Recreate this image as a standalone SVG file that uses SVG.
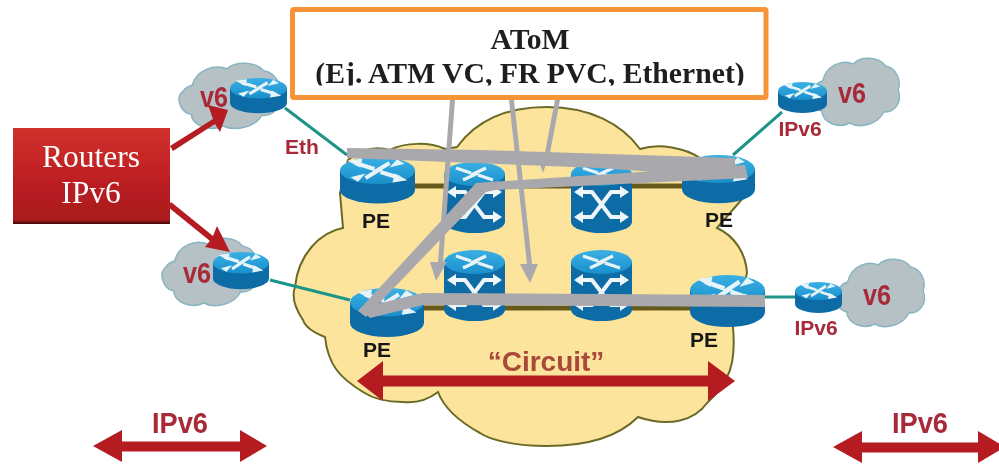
<svg xmlns="http://www.w3.org/2000/svg" width="999" height="466" viewBox="0 0 999 466">
<style>
.lbl{font-family:"Liberation Sans",Arial,sans-serif;font-weight:700;text-anchor:middle}
.red{fill:#a82a38}
.pe{fill:#161616;font-size:21px}
.ser{font-family:"Liberation Serif","Times New Roman",serif;text-anchor:middle}
.teal{fill:none;stroke:#1f9488;stroke-width:3}
.olive{fill:none;stroke:#655a1e;stroke-width:5}
.grey{fill:#a9a9ad;stroke:none}
.dred{fill:#b51c24;stroke:none}
.cld{fill:#b6c1c5;stroke:#86b4c0;stroke-width:1.5}
</style>
<defs>
<filter id="soft" filterUnits="userSpaceOnUse" x="0" y="0" width="999" height="466"><feGaussianBlur stdDeviation="0.55"/></filter>
<clipPath id="cut"><rect x="290" y="7" width="479" height="78.500"/></clipPath>
<linearGradient id="box" x1="0" y1="0" x2="0" y2="1"><stop offset="0" stop-color="#d0312c"/><stop offset="0.5" stop-color="#bf2024"/><stop offset="0.96" stop-color="#a81a1c"/><stop offset="1" stop-color="#3c0a0a"/></linearGradient>
<linearGradient id="top" x1="0" y1="0" x2="0" y2="1"><stop offset="0" stop-color="#3ab0e4"/><stop offset="1" stop-color="#1a8fcb"/></linearGradient>
<path id="cloudp" d="M14,24 C18,8 36,2 48,7 C56,-1 76,-1 84,9 C95,11 102,22 98,33 C103,45 94,56 82,55 C76,67 56,72 44,66 C32,72 14,66 13,54 C2,52 -3,36 5,30 C7,27 10,25 14,24 Z"/>
<g id="router">
<path fill="#0c6ca6" d="M0,18 V44 A50,18 0 0 0 100,44 V18 Z"/>
<ellipse cx="50" cy="18" rx="50" ry="18" fill="url(#top)"/>
<path fill="none" stroke="#e6f4fa" stroke-width="5.500" d="M20,8 L46,16 M80,28 L54,20 M66,8 L46,20 M34,28 L54,16"/>
<path fill="#e6f4fa" d="M10,5 L30,2 L27,14 Z M90,31 L70,34 L73,22 Z M76,3 L86,9 L66,14 Z M24,33 L14,27 L34,22 Z"/>
</g>
<g id="sw">
<path fill="#0c6ca6" d="M0,12 V60 A30.500,11 0 0 0 61,60 V12 Z"/>
<ellipse cx="30.500" cy="12" rx="30.500" ry="12" fill="url(#top)"/>
<path fill="none" stroke="#e6f4fa" stroke-width="3.200" d="M12,6 L27,11 M49,18 L34,13 M42,6 L27,13 M19,18 L34,11"/>
<path fill="none" stroke="#eef6fa" stroke-width="4" d="M9,30 H21 L40,55 H52 M9,55 H21 L40,30 H52"/>
<path fill="#eef6fa" d="M3,30 L12,24 V36 Z M58,30 L49,24 V36 Z M3,55 L12,49 V61 Z M58,55 L49,49 V61 Z"/>
</g>
</defs>
<rect width="999" height="466" fill="#ffffff"/>
<g filter="url(#soft)">
<g id="core-cloud">
<path fill="#fde49c" stroke="#6a6a28" stroke-width="2" d="M348,160 C362,148 376,146 390,150 C405,142 430,142 445,149 L457,147 C478,118 510,107 547,107 C590,107 622,124 640,149 C660,143 685,148 700,158 L750,190 L717,228 C735,236 746,254 747,273 L733,327 C735,350 733,366 727,377 C720,392 712,398 707,403 C695,420 670,428 638,417 C615,440 580,446 547,446 C515,446 490,440 480,433 C460,422 444,408 438,392 C425,402 412,403 403,402 C385,402 372,398 363,392 C340,378 328,365 325,337 C312,332 305,326 303,320 C293,305 292,295 295,287 C298,255 320,232 343,228 L340,193 Z"/>
</g>
<g id="cloud-tl"><use href="#cloudp" class="cld" transform="translate(178,62) scale(1.02,0.97)"/></g>
<g id="cloud-bl"><use href="#cloudp" class="cld" transform="translate(161,237) scale(0.97,1)"/></g>
<g id="cloud-tr"><use href="#cloudp" class="cld" transform="translate(810,57) scale(0.9,1)"/></g>
<g id="cloud-br"><use href="#cloudp" class="cld" transform="translate(835,258) scale(0.9,1)"/></g>
<g id="router-tl"><use href="#router" transform="translate(230,78) scale(0.57,0.57)"/></g>
<g id="router-bl"><use href="#router" transform="translate(213,252) scale(0.56,0.6)"/></g>
<g id="router-tr"><use href="#router" transform="translate(778,82) scale(0.49,0.5)"/></g>
<g id="router-br"><use href="#router" transform="translate(795,282) scale(0.47,0.5)"/></g>
<g id="pe-1"><use href="#router" transform="translate(340,157) scale(0.75,0.75)"/></g>
<g id="pe-2"><use href="#router" transform="translate(350,288) scale(0.74,0.79)"/></g>
<g id="pe-3"><use href="#router" transform="translate(682,155) scale(0.73,0.78)"/></g>
<g id="pe-4"><use href="#router" transform="translate(690,275) scale(0.75,0.84)"/></g>
<g id="sw-1"><use href="#sw" transform="translate(444,162)"/></g>
<g id="sw-2"><use href="#sw" transform="translate(571,162)"/></g>
<g id="sw-3"><use href="#sw" transform="translate(444,250)"/></g>
<g id="sw-4"><use href="#sw" transform="translate(571,250)"/></g>
<g id="routers-ipv6">
<rect x="13" y="128" width="157" height="96" fill="url(#box)"/>
<text class="ser" x="91" y="167" font-size="31.500" fill="#ffffff">Routers</text>
<text class="ser" x="91" y="203" font-size="31.500" fill="#ffffff">IPv6</text>
</g>
<g id="connectors">
<path class="teal" d="M285,108 L347,155 M270,280 L350,300 M782,112 L733,155 M765,297 H795"/>
<path class="olive" d="M415,186 H444 M505,186 H571 M632,186 H682 M424,308 H444 M505,308 H571 M632,308 H690"/>
<path class="grey" d="M450,100 H455 L443,262 L447,262 L436,281 L430,262 L438,262 Z"/>
<path class="grey" d="M509,100 H514 L532,264 H538 L530,283 L520,264 H527 Z"/>
<path class="grey" d="M555,100 H560 L549,158 H548 L543,173 L538,158 H544 Z"/>
<path class="grey" d="M347,148 L480,150 L735,158 V178 L600,168 L347,158 Z"/>
<path class="grey" d="M358,311 L476,183 L745,165 L748,178 L495,190 L486,192 L366,317 Z"/>
<path class="grey" d="M360,308 L423,293 L765,295 V307 L423,305 L370,318 Z"/>
<path class="dred" d="M170,146 L213,119 L208,105 L228,110 L220,132 L215,124 L173,151 Z"/>
<path class="dred" d="M171,202 L213,236 L217,226 L230,252 L205,247 L210,241 L168,207 Z"/>
<path class="dred" d="M357,381 L383,361 V375.500 H708 V361 L735,381 L708,401 V386.500 H383 V401 Z"/>
<path class="dred" d="M93,446 L122,430 V441.500 H240 V430 L267,446 L240,462 V451.500 H122 V462 Z"/>
<path class="dred" d="M833,447 L862,431 V442.500 H978 V431 L1005,447 L978,463 V452.500 H862 V463 Z"/>
</g>
<g id="labels">
<text class="lbl red" x="214" y="107" font-size="29" textLength="28" lengthAdjust="spacingAndGlyphs">v6</text>
<text class="lbl red" x="197" y="283" font-size="29" textLength="28" lengthAdjust="spacingAndGlyphs">v6</text>
<text class="lbl red" x="852" y="103" font-size="29" textLength="28" lengthAdjust="spacingAndGlyphs">v6</text>
<text class="lbl red" x="877" y="305" font-size="29" textLength="28" lengthAdjust="spacingAndGlyphs">v6</text>
<text class="lbl red" x="800" y="136" font-size="21">IPv6</text>
<text class="lbl red" x="816" y="335" font-size="21">IPv6</text>
<text class="lbl red" x="302" y="154" font-size="21">Eth</text>
<text class="lbl pe" x="376" y="228">PE</text>
<text class="lbl pe" x="377" y="357">PE</text>
<text class="lbl pe" x="719" y="227">PE</text>
<text class="lbl pe" x="704" y="347">PE</text>
<text class="lbl" x="546" y="371" font-size="28" fill="#a8483a">“Circuit”</text>
<text class="lbl red" x="180" y="433" font-size="30" textLength="56" lengthAdjust="spacingAndGlyphs">IPv6</text>
<text class="lbl red" x="920" y="433" font-size="30" textLength="56" lengthAdjust="spacingAndGlyphs">IPv6</text>
</g>
</g>
<g id="atom-box">
<rect x="292.500" y="9.500" width="473.500" height="88" rx="1.500" fill="#ffffff" stroke="#f79438" stroke-width="5"/>
<g clip-path="url(#cut)">
<text class="ser" x="530" y="49" font-size="29.700" font-weight="700" fill="#1e1e1e">AToM</text>
<text class="ser" x="530" y="83" font-size="29.700" font-weight="700" fill="#1e1e1e">(Ej. ATM VC, FR PVC, Ethernet)</text>
</g>
</g>
</svg>
